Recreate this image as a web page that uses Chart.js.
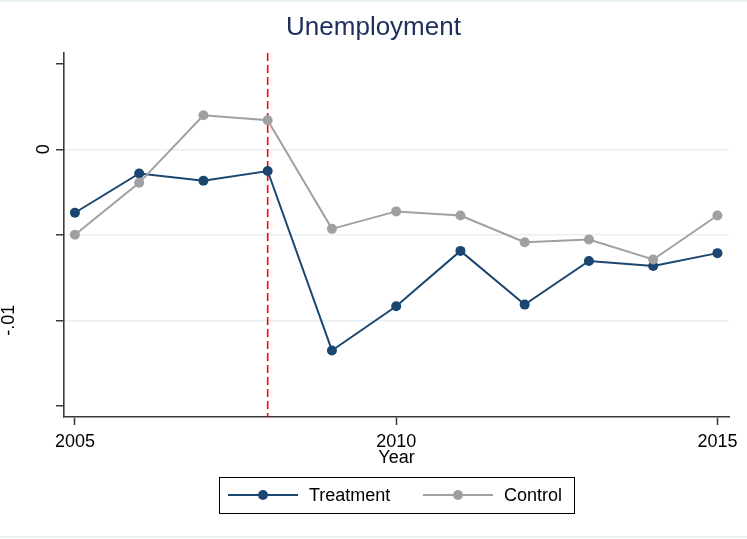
<!DOCTYPE html>
<html>
<head>
<meta charset="utf-8">
<script src="https://cdn.jsdelivr.net/npm/chart.js@4.4.1/dist/chart.umd.min.js"></script>
<style>
  html, body { margin: 0; padding: 0; background: #fff; }
  #wrap { width: 747px; height: 539px; }
</style>
</head>
<body>
<div id="wrap"><canvas id="unemp"></canvas></div>
<script>
// values
var years = [2005, 2006, 2007, 2008, 2009, 2010, 2011, 2012, 2013, 2014, 2015];
var treatment = [-0.00371, -0.00141, -0.00184, -0.00127, -0.01176, -0.00918, -0.00594, -0.00908, -0.00653, -0.00682, -0.00607];
var control = [-0.00500, -0.00196, 0.00199, 0.00170, -0.00465, -0.00363, -0.00387, -0.00543, -0.00527, -0.00644, -0.00387];
var xTicks = [2005, 2010, 2015];
var yTicks = [0.005, 0, -0.005, -0.01, -0.015];
var yLabels = {'0': '0', '-0.01': '-.01'};
var yGrid = [0, -0.005, -0.01];
var xRange = [2004.83, 2015.18];
var yRange = [-0.01565, 0.00563];
var treatYear = 2008;

var navy = '#1a476f';
var grey = '#a0a0a0';
var axisCol = '#3a3a3a';
var fontFam = '"Liberation Sans", Arial, sans-serif';

function pts(vals) {
	var out = [];
	for (var i = 0; i < years.length; i++) {
		out.push({x: years[i], y: vals[i]});
	}
	return out;
}

// title, y labels (rotated), x title, legend box, frame lines
var extras = {
	id: 'extras',
	afterDraw: function(chart) {
		var c = chart.ctx;
		var ys = chart.scales.y;
		var area = chart.chartArea;
		c.save();

		// title, centred on the whole graph
		c.fillStyle = '#1f2d5a';
		c.font = '26px ' + fontFam;
		c.textAlign = 'center';
		c.textBaseline = 'middle';
		c.fillText('Unemployment', 373.5, 28);

		c.fillStyle = '#000';
		c.font = '18px ' + fontFam;
		// y tick labels, rotated like the original
		var lx = {'0': 49, '-0.01': 14};
		for (var k in yLabels) {
			var py = ys.getPixelForValue(parseFloat(k));
			c.save();
			c.translate(lx[k], py);
			c.rotate(-Math.PI / 2);
			c.textAlign = 'center';
			c.textBaseline = 'alphabetic';
			c.fillText(yLabels[k], 0, 0);
			c.restore();
		}
		// x axis title
		c.textAlign = 'center';
		c.textBaseline = 'middle';
		c.fillText('Year', (area.left + area.right) / 2, 458);

		// legend
		c.strokeStyle = '#000';
		c.lineWidth = 1;
		c.strokeRect(219.5, 477.5, 355, 36);
		var items = [
			{x: 228, label: 'Treatment', col: navy},
			{x: 423, label: 'Control', col: grey}
		];
		c.textAlign = 'left';
		for (var j = 0; j < items.length; j++) {
			var it = items[j];
			c.strokeStyle = it.col;
			c.lineWidth = 2;
			c.beginPath();
			c.moveTo(it.x, 495);
			c.lineTo(it.x + 70, 495);
			c.stroke();
			c.fillStyle = it.col;
			c.beginPath();
			c.arc(it.x + 35, 495, 5, 0, Math.PI * 2);
			c.fill();
			c.fillStyle = '#000';
			c.fillText(it.label, it.x + 81, 496);
		}

		// faint outer frame lines
		c.strokeStyle = '#e9f0f2';
		c.lineWidth = 2;
		c.beginPath();
		c.moveTo(0, 1); c.lineTo(747, 1);
		c.moveTo(0, 537); c.lineTo(747, 537);
		c.stroke();
		c.restore();
	}
};

new Chart(document.getElementById('unemp'), {
	type: 'line',
	data: {
		datasets: [
			{
				label: 'Treatment',
				data: pts(treatment),
				borderColor: navy,
				backgroundColor: navy,
				borderWidth: 2,
				pointRadius: 5,
				pointBorderWidth: 0,
				tension: 0,
				order: 1
			},
			{
				label: 'Control',
				data: pts(control),
				borderColor: grey,
				backgroundColor: grey,
				borderWidth: 2,
				pointRadius: 5,
				pointBorderWidth: 0,
				tension: 0,
				order: 0
			},
			{
				label: 'treat',
				data: [{x: treatYear, y: yRange[1]}, {x: treatYear, y: yRange[0]}],
				borderColor: '#ff0000',
				borderWidth: 1.6,
				borderDash: [8, 4],
				pointRadius: 0,
				order: 2
			}
		]
	},
	options: {
		responsive: true,
		maintainAspectRatio: false,
		animation: false,
		layout: { padding: { left: 0, right: 18, top: 53, bottom: 0 } },
		plugins: {
			legend: { display: false },
			tooltip: { enabled: false },
			title: { display: false }
		},
		scales: {
			x: {
				type: 'linear',
				min: xRange[0],
				max: xRange[1],
				afterBuildTicks: function(s) {
					s.ticks = xTicks.map(function(v) { return {value: v}; });
				},
				afterFit: function(s) { s.height = 122; },
				grid: { drawOnChartArea: false, drawTicks: true, tickLength: 8, tickColor: axisCol, tickWidth: 1.5 },
				border: { display: true, color: axisCol, width: 1.6 },
				ticks: {
					color: '#000',
					padding: 6,
					maxRotation: 0,
					font: { family: fontFam, size: 18 },
					callback: function(v) { return String(v); }
				}
			},
			y: {
				type: 'linear',
				min: yRange[0],
				max: yRange[1],
				afterBuildTicks: function(s) {
					s.ticks = yTicks.map(function(v) { return {value: v}; });
				},
				afterFit: function(s) { s.width = 64; },
				grid: {
					drawTicks: true,
					tickLength: 8,
					tickColor: axisCol,
					tickWidth: 1.5,
					lineWidth: 1.5,
					color: function(ctx) {
						if (ctx.tick && yGrid.indexOf(ctx.tick.value) >= 0) return '#e8eff2';
						return 'rgba(0,0,0,0)';
					}
				},
				border: { display: true, color: axisCol, width: 1.6 },
				ticks: { display: false }
			}
		}
	},
	plugins: [extras]
});
</script>
</body>
</html>
